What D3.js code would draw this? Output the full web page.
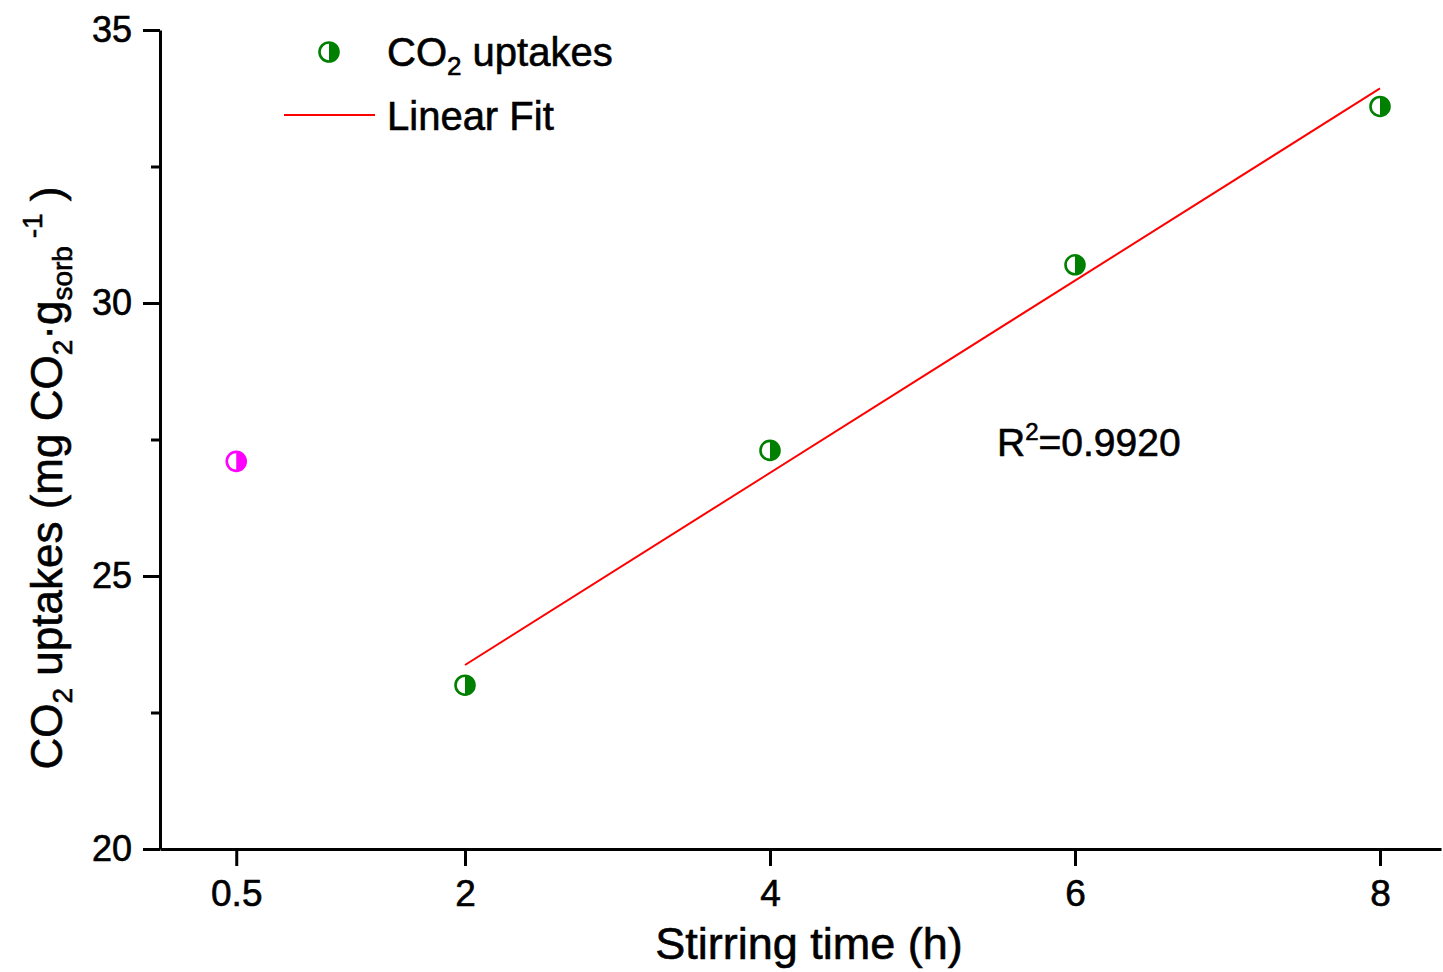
<!DOCTYPE html>
<html>
<head>
<meta charset="utf-8">
<script src="https://cdn.jsdelivr.net/npm/d3@7"></script>
<style>
html,body{margin:0;padding:0;background:#fff;}
svg text{font-family:"Liberation Sans",Arial,Helvetica,sans-serif;fill:#000;stroke:#000;stroke-width:0.6px;}
</style>
</head>
<body>
<svg id="chart" width="1443" height="972"></svg>
<script>
// ---- data ----
const fitTimes = [2, 4, 6, 8];               // stirring time (h), fitted series
const fitUptakes = [23.0, 27.3, 30.7, 33.6]; // CO2 uptakes, fitted series
const extraTimes = [0.5];                    // separate point (magenta)
const extraUptakes = [27.1];
const xTicks = [0.5, 2, 4, 6, 8];
const yTicks = [20, 25, 30, 35];
const yMinorTicks = [22.5, 27.5, 32.5];
const r2Label = "0.9920";

const svg = d3.select("#chart");
const W = 1443, H = 972;
const m = {left:160, right:2, top:30, bottom:123};
const FONT = "'Liberation Sans', Arial, Helvetica, sans-serif";

const x = d3.scaleLinear().domain([0, 8.4]).range([m.left, W - m.right]);
const y = d3.scaleLinear().domain([20, 35]).range([H - m.bottom, m.top]);

const green = "#008000", magenta = "#ff00ff", red = "#ff0000";

// axes
const xAxis = d3.axisBottom(x).tickValues(xTicks)
  .tickFormat(d => d === 0.5 ? "0.5" : d3.format("d")(d))
  .tickSize(17).tickSizeOuter(0).tickPadding(14);
const gx = svg.append("g").attr("transform", `translate(0,${y(20)})`).call(xAxis);
gx.attr("font-family", FONT);
gx.select(".domain").attr("stroke-width", 3).attr("stroke", "#000");
gx.selectAll(".tick line").attr("stroke-width", 3);
gx.selectAll(".tick text").attr("font-size", 37).attr("dy", "0.71em");

const yAxis = d3.axisLeft(y).tickValues(yTicks).tickSize(17).tickSizeOuter(0).tickPadding(11);
const gy = svg.append("g").attr("transform", `translate(${x(0)},0)`).call(yAxis);
gy.attr("font-family", FONT);
gy.select(".domain").attr("stroke-width", 3);
gy.selectAll(".tick line").attr("stroke-width", 3);
gy.selectAll(".tick text").attr("font-size", 36);

const gym = svg.append("g").attr("transform", `translate(${x(0)},0)`)
  .call(d3.axisLeft(y).tickValues(yMinorTicks).tickSize(9).tickFormat(""));
gym.select(".domain").remove();
gym.selectAll(".tick line").attr("stroke-width", 3);

// linear fit (least squares from fitted data)
const mx = d3.mean(fitTimes), my = d3.mean(fitUptakes);
const slope = d3.sum(fitTimes, (t, i) => (t - mx) * (fitUptakes[i] - my)) / d3.sum(fitTimes, t => (t - mx) ** 2);
const icpt = my - slope * mx;
const fitExt = d3.extent(fitTimes);
svg.append("path")
  .datum(fitExt.map(t => [t, icpt + slope * t]))
  .attr("d", d3.line().x(d => x(d[0])).y(d => y(d[1])))
  .attr("stroke", red).attr("stroke-width", 2).attr("fill", "none");

// half-filled markers
const R = 9.5;
const halfArc = d3.arc()({innerRadius:0, outerRadius:R, startAngle:0, endAngle:Math.PI});
function marker(g, cx, cy, col) {
  const mk = g.append("g").attr("transform", `translate(${cx},${cy})`);
  mk.append("circle").attr("r", R).attr("fill", "#fff").attr("stroke", "none");
  mk.append("path").attr("d", halfArc).attr("fill", col);
  mk.append("circle").attr("r", R).attr("fill", "none").attr("stroke", col).attr("stroke-width", 2.6);
}
const pts = svg.append("g");
fitTimes.forEach((t, i) => marker(pts, x(t), y(fitUptakes[i]), green));
extraTimes.forEach((t, i) => marker(pts, x(t), y(extraUptakes[i]), magenta));

// legend
marker(svg, 329, 52, green);
const l1 = svg.append("text").attr("x", 387).attr("y", 66).attr("font-size", 40);
l1.append("tspan").text("CO");
l1.append("tspan").attr("font-size", 26).attr("dy", 9).text("2");
l1.append("tspan").attr("dy", -9).text(" uptakes");
svg.append("line").attr("x1", 284).attr("x2", 375).attr("y1", 115).attr("y2", 115)
  .attr("stroke", red).attr("stroke-width", 2);
svg.append("text").attr("x", 387).attr("y", 130).attr("font-size", 40).text("Linear Fit");

// R^2 annotation
const rt = svg.append("text").attr("x", 997).attr("y", 456).attr("font-size", 39);
rt.append("tspan").text("R");
rt.append("tspan").attr("font-size", 24).attr("dy", -16).text("2");
rt.append("tspan").attr("dy", 16).text("=" + r2Label);

// axis titles
svg.append("text").attr("x", 809).attr("y", 959).attr("text-anchor", "middle")
  .attr("font-size", 45).text("Stirring time (h)");

const yt = svg.append("text").attr("transform", "translate(62,478) rotate(-90)")
  .attr("text-anchor", "middle").attr("font-size", 44);
yt.append("tspan").text("CO");
yt.append("tspan").attr("font-size", 28).attr("dy", 10).text("2");
yt.append("tspan").attr("dy", -10).text(" uptakes (mg CO");
yt.append("tspan").attr("font-size", 28).attr("dy", 10).text("2");
yt.append("tspan").attr("dy", -10).text("·g");
yt.append("tspan").attr("font-size", 28).attr("dy", 10).text("sorb");
yt.append("tspan").attr("font-size", 28).attr("dy", -30).text(" -1");
yt.append("tspan").attr("dy", 20).text(" )");
</script>
</body>
</html>
